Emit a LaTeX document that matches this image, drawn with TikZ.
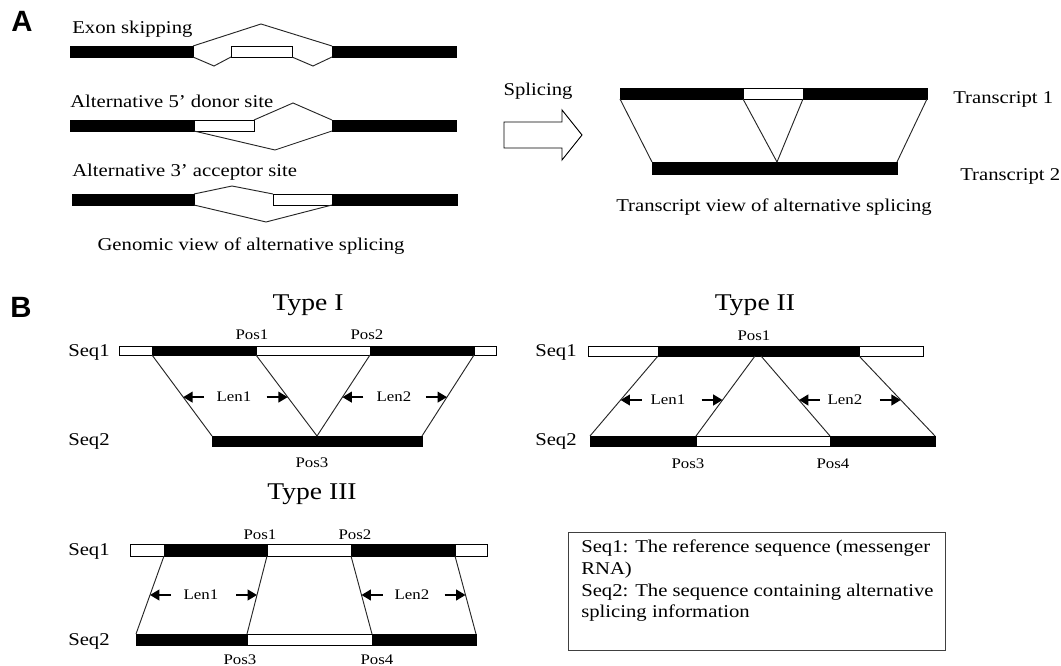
\documentclass[tikz,border=0pt]{standalone}
\usepackage{fontspec}
\setmainfont[FakeStretch=1.15]{Liberation Serif}
\newfontfamily\panelfont{Liberation Sans}
\usetikzlibrary{arrows.meta,calc,fit}
\begin{document}
\begin{tikzpicture}[x=0.75pt,y=-0.75pt,
  bk/.style={draw=black,fill=black,inner sep=0pt,outer sep=0pt,line width=0.6pt},
  wh/.style={draw=black,fill=white,inner sep=0pt,outer sep=0pt,line width=0.6pt},
  ln/.style={draw=black!85,line width=0.7pt},
  lbl/.style={font=\fontsize{13.5}{16}\selectfont,inner sep=0pt},
  sml/.style={font=\fontsize{11}{13}\selectfont,inner sep=0pt},
  ttl/.style={font=\fontsize{18}{20}\selectfont,inner sep=0pt},
  pnl/.style={font=\panelfont\bfseries\fontsize{22}{24}\selectfont,inner sep=0pt},
  lenarr/.style={line width=1.4pt,-{Triangle[length=7pt,width=8pt]}},
  legline/.style={lbl,anchor=base west},
]
\useasboundingbox (0,0) rectangle (1061,666);

% ================= Panel A, genomic view =================
\node[pnl,anchor=base west] (labA) at (11,32) {A};

\node[lbl,anchor=base west] (tES) at (72,34) {Exon skipping};
\node[bk,fit={(70,46) (193,57)}] (r1L) {};
\node[wh,fit={(231,46) (292,57)}] (r1W) {};
\node[bk,fit={(332,46) (456,57)}] (r1R) {};
\coordinate (r1up) at (261,24);
\coordinate (r1d1) at (214,66);
\coordinate (r1d2) at (313,66);
\draw[ln] (r1L.north east) -- (r1up) -- (r1R.north west);
\draw[ln] (r1L.south east) -- (r1d1) -- (r1W.south west);
\draw[ln] (r1W.south east) -- (r1d2) -- (r1R.south west);

\node[lbl,anchor=base west] (tD5) at (70,108) {Alternative 5’ donor site};
\node[bk,fit={(70,120) (194,131)}] (r2L) {};
\node[wh,fit={(194,120) (254,131)}] (r2W) {};
\node[bk,fit={(332,120) (456,131)}] (r2R) {};
\coordinate (r2up) at (293,103);
\coordinate (r2dn) at (275,150);
\draw[ln] (r2W.north east) -- (r2up) -- (r2R.north west);
\draw[ln] (r2L.south east) -- (r2dn) -- (r2R.south west);

\node[lbl,anchor=base west] (tA3) at (72,177) {Alternative 3’ acceptor site};
\node[bk,fit={(72,194) (194,205)}] (r3L) {};
\node[wh,fit={(273,194) (332,205)}] (r3W) {};
\node[bk,fit={(332,194) (457,205)}] (r3R) {};
\coordinate (r3up) at (232,186);
\coordinate (r3dn) at (266,222);
\draw[ln] (r3L.north east) -- (r3up) -- (r3W.north west);
\draw[ln] (r3L.south east) -- (r3dn) -- (r3R.south west);

\node[lbl,anchor=base] (tGen) at (251,251) {Genomic view of alternative splicing};

% ================= Panel A, transcript view =================
\node[lbl,anchor=base] (tSpl) at (538,96) {Splicing};
\draw[line width=0.7pt,fill=white] (504,122) -- (562,122) -- (562,110) -- (582,135)
  -- (562,160) -- (562,148) -- (504,148) -- cycle;

\node[bk,fit={(620,88) (927,99)}] (tr1) {};
\node[wh,fit={(743,88) (803,99)}] (tr1W) {};
\node[bk,fit={(652,162) (897,174)}] (tr2) {};
\coordinate (tr2m) at (777,162);
\draw[ln] (tr1.south west) -- (tr2.north west);
\draw[ln] (tr1W.south west) -- (tr2m);
\draw[ln] (tr1W.south east) -- (tr2m);
\draw[ln] (tr1.south east) -- (tr2.north east);

\node[lbl,anchor=base west] (tTr1) at (953,104) {Transcript 1};
\node[lbl,anchor=base west] (tTr2) at (960,181) {Transcript 2};
\node[lbl,anchor=base] (tTrv) at (774,212) {Transcript view of alternative splicing};

% ================= Panel B =================
\node[pnl,anchor=base west] (labB) at (10,318) {B};

% ---- Type I ----
\node[ttl,anchor=base] (ty1) at (308,311) {Type I};
\node[lbl,anchor=base west] (s1a) at (68,357) {Seq1};
\node[lbl,anchor=base west] (s2a) at (68,446) {Seq2};
\node[wh,fit={(119,346) (152,355)}] (a1) {};
\node[bk,fit={(152,346) (256,355)}] (a2) {};
\node[wh,fit={(256,346) (370,355)}] (a3) {};
\node[bk,fit={(370,346) (474,355)}] (a4) {};
\node[wh,fit={(474,346) (496,355)}] (a5) {};
\node[bk,fit={(212,436) (422,446)}] (a6) {};
\coordinate (aP3) at (317,436);
\draw[ln] (a2.south west) -- (a6.north west);
\draw[ln] (a2.south east) -- (aP3);
\draw[ln] (a4.south west) -- (aP3);
\draw[ln] (a4.south east) -- (a6.north east);
\node[sml,anchor=base] (ap1) at (252,340) {Pos1};
\node[sml,anchor=base] (ap2) at (367,340) {Pos2};
\node[sml,anchor=base] (ap3) at (312,468) {Pos3};
\node[sml] (al1) at (234,397) {Len1};
\node[sml] (al2) at (394,397) {Len2};
\coordinate (at1) at ($(a2.south west)!0.52!(a6.north west)$);
\coordinate (at2) at ($(a2.south east)!0.52!(aP3)$);
\coordinate (at3) at ($(a4.south west)!0.52!(aP3)$);
\coordinate (at4) at ($(a4.south east)!0.52!(a6.north east)$);
\coordinate (as1) at ($(at1)+(21,0)$);
\coordinate (as2) at ($(at2)+(-21,0)$);
\coordinate (as3) at ($(at3)+(21,0)$);
\coordinate (as4) at ($(at4)+(-21,0)$);
\draw[lenarr] (as1) -- (at1);
\draw[lenarr] (as2) -- (at2);
\draw[lenarr] (as3) -- (at3);
\draw[lenarr] (as4) -- (at4);

% ---- Type II ----
\node[ttl,anchor=base] (ty2) at (755,311) {Type II};
\node[lbl,anchor=base west] (s1b) at (535,357) {Seq1};
\node[lbl,anchor=base west] (s2b) at (535,446) {Seq2};
\node[wh,fit={(588,346) (658,356)}] (b1) {};
\node[bk,fit={(658,346) (859,356)}] (b2) {};
\node[wh,fit={(859,346) (923,356)}] (b3) {};
\node[bk,fit={(590,436) (696,446)}] (b4) {};
\node[wh,fit={(696,436) (830,446)}] (b5) {};
\node[bk,fit={(830,436) (935,446)}] (b6) {};
\coordinate (bP1a) at (755,356);
\coordinate (bP1b) at (761,356);
\draw[ln] (b2.south west) -- (b4.north west);
\draw[ln] (bP1a) -- (b5.north west);
\draw[ln] (bP1b) -- (b5.north east);
\draw[ln] (b2.south east) -- (b6.north east);
\node[sml,anchor=base] (bp1) at (754,341) {Pos1};
\node[sml,anchor=base] (bp3) at (688,469) {Pos3};
\node[sml,anchor=base] (bp4) at (833,469) {Pos4};
\node[sml] (bl1) at (668,400) {Len1};
\node[sml] (bl2) at (845,400) {Len2};
\coordinate (bt1) at ($(b2.south west)!0.55!(b4.north west)$);
\coordinate (bt2) at ($(bP1a)!0.55!(b5.north west)$);
\coordinate (bt3) at ($(bP1b)!0.55!(b5.north east)$);
\coordinate (bt4) at ($(b2.south east)!0.55!(b6.north east)$);
\coordinate (bs1) at ($(bt1)+(21,0)$);
\coordinate (bs2) at ($(bt2)+(-21,0)$);
\coordinate (bs3) at ($(bt3)+(21,0)$);
\coordinate (bs4) at ($(bt4)+(-21,0)$);
\draw[lenarr] (bs1) -- (bt1);
\draw[lenarr] (bs2) -- (bt2);
\draw[lenarr] (bs3) -- (bt3);
\draw[lenarr] (bs4) -- (bt4);

% ---- Type III ----
\node[ttl,anchor=base] (ty3) at (312,500) {Type III};
\node[lbl,anchor=base west] (s1c) at (68,556) {Seq1};
\node[lbl,anchor=base west] (s2c) at (68,645) {Seq2};
\node[wh,fit={(130,544) (164,556)}] (c1) {};
\node[bk,fit={(164,544) (267,556)}] (c2) {};
\node[wh,fit={(267,544) (351,556)}] (c3) {};
\node[bk,fit={(351,544) (455,556)}] (c4) {};
\node[wh,fit={(455,544) (487,556)}] (c5) {};
\node[bk,fit={(136,634) (247,645)}] (c6) {};
\node[wh,fit={(247,634) (372,645)}] (c7) {};
\node[bk,fit={(372,634) (476,645)}] (c8) {};
\draw[ln] (c2.south west) -- (c6.north west);
\draw[ln] (c2.south east) -- (c7.north west);
\draw[ln] (c4.south west) -- (c8.north west);
\draw[ln] (c4.south east) -- (c8.north east);
\node[sml,anchor=base] (cp1) at (260,540) {Pos1};
\node[sml,anchor=base] (cp2) at (355,540) {Pos2};
\node[sml,anchor=base] (cp3) at (240,664) {Pos3};
\node[sml,anchor=base] (cp4) at (377,664) {Pos4};
\node[sml] (cl1) at (201,595) {Len1};
\node[sml] (cl2) at (412,595) {Len2};
\coordinate (ct1) at ($(c2.south west)!0.5!(c6.north west)$);
\coordinate (ct2) at ($(c2.south east)!0.5!(c7.north west)$);
\coordinate (ct3) at ($(c4.south west)!0.5!(c8.north west)$);
\coordinate (ct4) at ($(c4.south east)!0.5!(c8.north east)$);
\coordinate (cs1) at ($(ct1)+(21,0)$);
\coordinate (cs2) at ($(ct2)+(-21,0)$);
\coordinate (cs3) at ($(ct3)+(21,0)$);
\coordinate (cs4) at ($(ct4)+(-21,0)$);
\draw[lenarr] (cs1) -- (ct1);
\draw[lenarr] (cs2) -- (ct2);
\draw[lenarr] (cs3) -- (ct3);
\draw[lenarr] (cs4) -- (ct4);

% ---- legend ----
\node[draw=black!75,line width=0.7pt,inner sep=0pt,fit={(568,532) (945,650)}] (legend) {};
\node[legline] (lg1) at (581,553) {Seq1: The reference sequence (messenger};
\node[legline] (lg2) at (581,574.5) {RNA)};
\node[legline] (lg3) at (581,596) {Seq2: The sequence containing alternative};
\node[legline] (lg4) at (581,617.5) {splicing information};
\end{tikzpicture}
\end{document}
